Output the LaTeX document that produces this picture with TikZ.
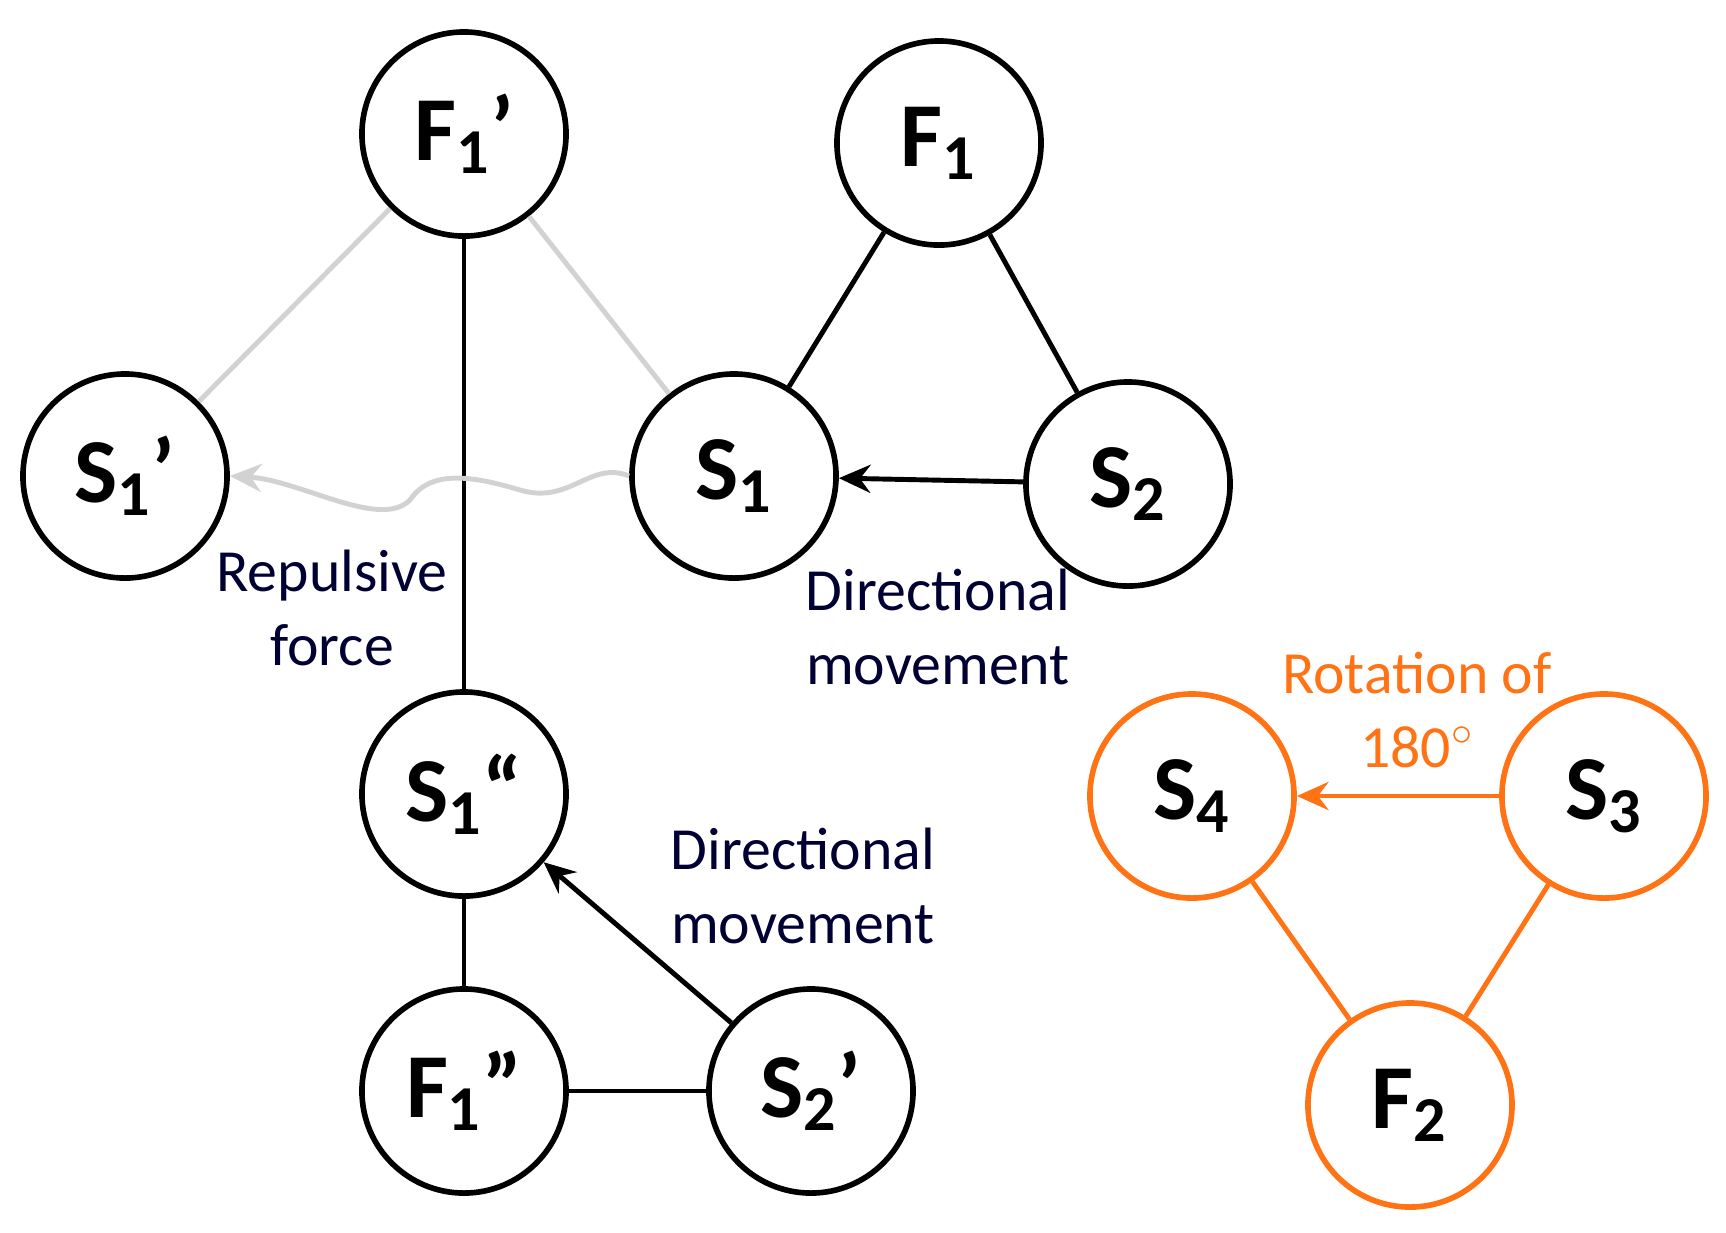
\documentclass[tikz,border=0pt]{standalone}
\usepackage{fontspec}
\setmainfont{Carlito}
\usetikzlibrary{arrows.meta}
\definecolor{rotorange}{RGB}{255,115,20}
\tikzset{
  unit/.style={circle, draw, line width=1.6pt, minimum size=2.04cm, inner sep=0pt, font=\fontsize{26}{28}\selectfont\bfseries},
  link/.style={line width=1.4pt},
  ghost/.style={line width=1.4pt, gray!35},
  move/.style={line width=1.4pt, -{Stealth[length=9pt,width=8pt,inset=3pt]}},
  note/.style={align=center, font=\fontsize{17}{21}\selectfont, text=black!80!blue},
}
\begin{document}
\begin{tikzpicture}[x=0.01cm, y=-0.01cm]
    \useasboundingbox (0,0) rectangle (1726,1232);
    % left cluster
    \node[unit] (F1p) at (464,134) {F\textsubscript{1}’};
    \node[unit] (S1p) at (125,476) {S\textsubscript{1}’};
    \node[unit] (S1pp) at (464,794) {S\textsubscript{1}“};
    \node[unit] (F1pp) at (464,1091) {F\textsubscript{1}”};
    \node[unit] (S2p) at (811,1091) {S\textsubscript{2}’};
    % right cluster
    \node[unit] (F1) at (939,143) {F\textsubscript{1}};
    \node[unit] (S1) at (734,476) {S\textsubscript{1}};
    \node[unit] (S2) at (1128,484) {S\textsubscript{2}};
    % rotated cluster
    \node[unit, draw=rotorange] (S4) at (1192,796) {S\textsubscript{4}};
    \node[unit, draw=rotorange] (S3) at (1604,796) {S\textsubscript{3}};
    \node[unit, draw=rotorange] (F2) at (1410,1105) {F\textsubscript{2}};

    % links
    \draw[ghost] (F1p) -- (S1p);
    \draw[ghost] (F1p) -- (S1);
    \draw[link] (F1p) -- (S1pp);
    \draw[link] (F1) -- (S1);
    \draw[link] (F1) -- (S2);
    \draw[link] (S1pp) -- (F1pp);
    \draw[link] (F1pp) -- (S2p);
    \draw[link, rotorange] (S4) -- (F2);
    \draw[link, rotorange] (S3) -- (F2);

    % movements
    \draw[move] (S2) -- (S1);
    \draw[move] (S2p) -- (S1pp);
    \draw[move, rotorange] (S3) -- (S4);
    \draw[move, gray!35] (S1.west) .. controls (590,460) and (570,505) .. (520,490)
        .. controls (470,475) and (430,470) .. (410,500)
        .. controls (380,530) and (300,480) .. (S1p.east);

    % notes
    \node[note] (rep) at (332,608) {Repulsive\\force};
    \node[note] (dir1) at (938,627) {Directional\\movement};
    \node[note] (dir2) at (803,886) {Directional\\movement};
    \node[note, text=rotorange] (rot) at (1417,710) {Rotation of\\180$^\circ$};
\end{tikzpicture}
\end{document}
